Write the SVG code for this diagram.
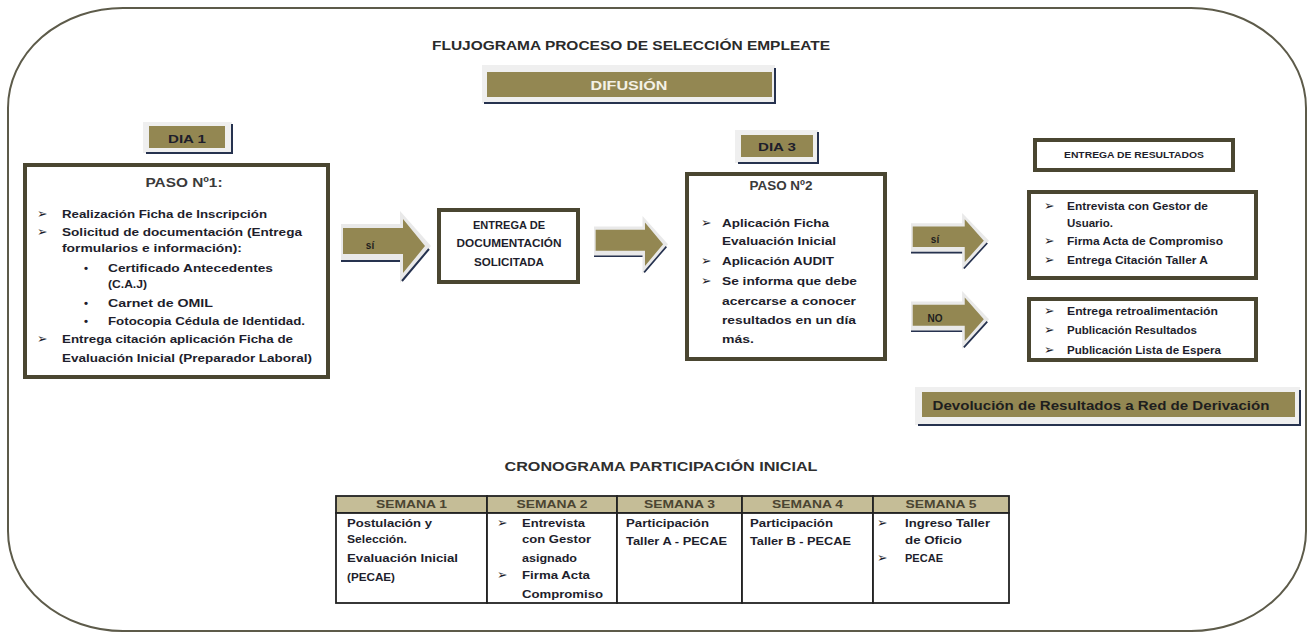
<svg xmlns="http://www.w3.org/2000/svg" width="1309" height="634" viewBox="0 0 1309 634">
<defs>
<style>
.t{font-family:"Liberation Sans",Arial,sans-serif;font-weight:bold;fill:#1e1e2c}
.s{font-size:11.5px}
.c{font-size:11px}
.h{font-size:12px;fill:#3a3a3a}
.m{text-anchor:middle}
.b{font-family:"DejaVu Sans",sans-serif;font-weight:bold;font-size:12.5px;fill:#1e1e2c}
.box{fill:#fff;stroke:#4a4631;stroke-width:4}
.olive{fill:#938752}
.shade{fill:#efefef}
.navy{fill:none;stroke:#26324f;stroke-width:2}
.cell{fill:#fff;stroke:#222;stroke-width:1.8}
.hdr{fill:#c5bd97;stroke:#222;stroke-width:1.8}
</style>
<symbol id="arr" viewBox="0 0 90 72" preserveAspectRatio="none">
<path d="M0,13 H59 V0 L90,35 L59,72 V51 H0 Z" fill="#e9e9e9"/>
<path d="M2,17 H62 V8 L84,35 L62,62 V43 H2 Z" fill="#938752"/>
<path d="M0,50 H59 M61,70 L88,38" fill="none" stroke="#26324f" stroke-width="2"/>
</symbol>
</defs>
<rect width="1309" height="634" fill="#fff"/>
<rect x="8" y="8" width="1298" height="623" rx="115" ry="100" fill="none" stroke="#5d5b4a" stroke-width="2"/>

<g id="title">
<text class="t m" x="631" y="50" font-size="13.5" textLength="398" lengthAdjust="spacingAndGlyphs" style="fill:#2a2a2a">FLUJOGRAMA PROCESO DE SELECCIÓN EMPLEATE</text>
</g>

<g id="difusion">
<rect class="shade" x="482" y="65" width="293" height="38"/>
<rect class="olive" x="487" y="72" width="285" height="25"/>
<path class="navy" d="M484,103 H775 V68"/>
<text class="t m" x="629" y="90" font-size="13" textLength="77" lengthAdjust="spacingAndGlyphs" style="fill:#f4f1e6">DIFUSIÓN</text>
</g>

<g id="dia1">
<rect class="shade" x="143" y="122" width="89" height="31"/>
<rect class="olive" x="149" y="126" width="76" height="22"/>
<path class="navy" d="M146,153 H232 V124"/>
<text class="t m" x="187" y="143" font-size="11" textLength="38" lengthAdjust="spacingAndGlyphs">DIA 1</text>
</g>

<g id="paso1">
<rect class="box" x="25" y="165" width="303" height="212"/>
<text class="t h m" x="184" y="187" textLength="77" lengthAdjust="spacingAndGlyphs">PASO Nº1:</text>
<text class="b" x="37" y="218">➢</text>
<text class="t s" x="62" y="218" textLength="205" lengthAdjust="spacingAndGlyphs">Realización Ficha de Inscripción</text>
<text class="b" x="37" y="236">➢</text>
<text class="t s" x="62" y="236" textLength="240" lengthAdjust="spacingAndGlyphs">Solicitud de documentación (Entrega</text>
<text class="t s" x="62" y="252" textLength="180" lengthAdjust="spacingAndGlyphs">formularios e información):</text>
<text class="t s" x="84" y="272">•</text>
<text class="t s" x="108" y="272" textLength="165" lengthAdjust="spacingAndGlyphs">Certificado Antecedentes</text>
<text class="t s" x="108" y="288" textLength="39" lengthAdjust="spacingAndGlyphs">(C.A.J)</text>
<text class="t s" x="84" y="307">•</text>
<text class="t s" x="108" y="307" textLength="105" lengthAdjust="spacingAndGlyphs">Carnet de OMIL</text>
<text class="t s" x="84" y="325">•</text>
<text class="t s" x="108" y="325" textLength="197" lengthAdjust="spacingAndGlyphs">Fotocopia Cédula de Identidad.</text>
<text class="b" x="37" y="343">➢</text>
<text class="t s" x="62" y="343" textLength="231" lengthAdjust="spacingAndGlyphs">Entrega citación aplicación Ficha de</text>
<text class="t s" x="62" y="362" textLength="250" lengthAdjust="spacingAndGlyphs">Evaluación Inicial (Preparador Laboral)</text>
</g>

<g id="entrega-doc">
<rect class="box" x="439" y="210" width="139" height="72"/>
<text class="t c m" x="509" y="229" textLength="72" lengthAdjust="spacingAndGlyphs">ENTREGA DE</text>
<text class="t c m" x="509" y="247" textLength="105" lengthAdjust="spacingAndGlyphs">DOCUMENTACIÓN</text>
<text class="t c m" x="509" y="266" textLength="70" lengthAdjust="spacingAndGlyphs">SOLICITADA</text>
</g>

<g id="dia3">
<rect class="shade" x="735" y="130" width="83" height="33"/>
<rect class="olive" x="741" y="135" width="72" height="22"/>
<path class="navy" d="M738,163 H818 V132"/>
<text class="t m" x="777" y="151" font-size="11" textLength="38" lengthAdjust="spacingAndGlyphs">DIA 3</text>
</g>

<g id="paso2">
<rect class="box" x="687" y="174" width="198" height="185"/>
<text class="t h m" x="781" y="190" textLength="63" lengthAdjust="spacingAndGlyphs">PASO Nº2</text>
<text class="b" x="701" y="227">➢</text>
<text class="t s" x="722" y="227" textLength="107" lengthAdjust="spacingAndGlyphs">Aplicación Ficha</text>
<text class="t s" x="722" y="245" textLength="114" lengthAdjust="spacingAndGlyphs">Evaluación Inicial</text>
<text class="b" x="701" y="265">➢</text>
<text class="t s" x="722" y="265" textLength="112" lengthAdjust="spacingAndGlyphs">Aplicación AUDIT</text>
<text class="b" x="701" y="285">➢</text>
<text class="t s" x="722" y="285" textLength="135" lengthAdjust="spacingAndGlyphs">Se informa que debe</text>
<text class="t s" x="722" y="305" textLength="134" lengthAdjust="spacingAndGlyphs">acercarse a conocer</text>
<text class="t s" x="722" y="324" textLength="134" lengthAdjust="spacingAndGlyphs">resultados en un día</text>
<text class="t s" x="722" y="343" textLength="32" lengthAdjust="spacingAndGlyphs">más.</text>
</g>

<g id="entrega-resultados">
<rect class="box" x="1035" y="140" width="198" height="30"/>
<text class="t m" x="1134" y="158" font-size="9" textLength="140" lengthAdjust="spacingAndGlyphs">ENTREGA DE RESULTADOS</text>
</g>

<g id="resultado-si">
<rect class="box" x="1029" y="192" width="227" height="86"/>
<text class="b" x="1044" y="210">➢</text>
<text class="t c" x="1067" y="210" textLength="141" lengthAdjust="spacingAndGlyphs">Entrevista con Gestor de</text>
<text class="t c" x="1067" y="227" textLength="46" lengthAdjust="spacingAndGlyphs">Usuario.</text>
<text class="b" x="1044" y="245">➢</text>
<text class="t c" x="1067" y="245" textLength="156" lengthAdjust="spacingAndGlyphs">Firma Acta de Compromiso</text>
<text class="b" x="1044" y="264">➢</text>
<text class="t c" x="1067" y="264" textLength="141" lengthAdjust="spacingAndGlyphs">Entrega Citación Taller A</text>
</g>

<g id="resultado-no">
<rect class="box" x="1029" y="299" width="227" height="61"/>
<text class="b" x="1044" y="315">➢</text>
<text class="t c" x="1067" y="315" textLength="151" lengthAdjust="spacingAndGlyphs">Entrega retroalimentación</text>
<text class="b" x="1044" y="334">➢</text>
<text class="t c" x="1067" y="334" textLength="130" lengthAdjust="spacingAndGlyphs">Publicación Resultados</text>
<text class="b" x="1044" y="354">➢</text>
<text class="t c" x="1067" y="354" textLength="154" lengthAdjust="spacingAndGlyphs">Publicación Lista de Espera</text>
</g>

<g id="devolucion">
<rect class="shade" x="915" y="387" width="385" height="38"/>
<rect class="olive" x="922" y="392" width="373" height="25"/>
<path class="navy" d="M918,425 H1300 V390"/>
<text class="t m" x="1101" y="410" font-size="13.5" textLength="337" lengthAdjust="spacingAndGlyphs" style="fill:#1e1e1e">Devolución de Resultados a Red de Derivación</text>
</g>

<g id="connectors">
<use href="#arr" x="341" y="211" width="90" height="72"/>
<text class="t m" x="370" y="249" font-size="10" style="fill:#1e1e1e">sí</text>
<use href="#arr" x="594" y="216" width="74" height="58"/>
<use href="#arr" x="911" y="213" width="78" height="57"/>
<text class="t m" x="935" y="243" font-size="10" style="fill:#1e1e1e">sí</text>
<use href="#arr" x="911" y="291" width="78" height="58"/>
<text class="t m" x="935" y="322" font-size="10" style="fill:#1e1e1e">NO</text>
</g>

<g id="cronograma">
<text class="t m" x="661" y="471" font-size="13.5" textLength="313" lengthAdjust="spacingAndGlyphs" style="fill:#2e2e2e">CRONOGRAMA PARTICIPACIÓN INICIAL</text>
<rect class="hdr" x="336" y="496" width="151" height="17"/>
<rect class="hdr" x="487" y="496" width="130" height="17"/>
<rect class="hdr" x="617" y="496" width="125" height="17"/>
<rect class="hdr" x="742" y="496" width="131" height="17"/>
<rect class="hdr" x="873" y="496" width="136" height="17"/>
<rect class="cell" x="336" y="513" width="151" height="90"/>
<rect class="cell" x="487" y="513" width="130" height="90"/>
<rect class="cell" x="617" y="513" width="125" height="90"/>
<rect class="cell" x="742" y="513" width="131" height="90"/>
<rect class="cell" x="873" y="513" width="136" height="90"/>
<text class="t c m" x="411.5" y="508" textLength="71" lengthAdjust="spacingAndGlyphs" style="fill:#4b4532">SEMANA 1</text>
<text class="t c m" x="552" y="508" textLength="71" lengthAdjust="spacingAndGlyphs" style="fill:#4b4532">SEMANA 2</text>
<text class="t c m" x="679.5" y="508" textLength="71" lengthAdjust="spacingAndGlyphs" style="fill:#4b4532">SEMANA 3</text>
<text class="t c m" x="807.5" y="508" textLength="71" lengthAdjust="spacingAndGlyphs" style="fill:#4b4532">SEMANA 4</text>
<text class="t c m" x="941" y="508" textLength="71" lengthAdjust="spacingAndGlyphs" style="fill:#4b4532">SEMANA 5</text>
<text class="t c" x="347" y="527" textLength="85" lengthAdjust="spacingAndGlyphs">Postulación y</text>
<text class="t c" x="347" y="543" textLength="60" lengthAdjust="spacingAndGlyphs">Selección.</text>
<text class="t c" x="347" y="562" textLength="111" lengthAdjust="spacingAndGlyphs">Evaluación Inicial</text>
<text class="t c" x="347" y="581" textLength="48" lengthAdjust="spacingAndGlyphs">(PECAE)</text>
<text class="b" x="497" y="527">➢</text>
<text class="t c" x="522" y="527" textLength="63" lengthAdjust="spacingAndGlyphs">Entrevista</text>
<text class="t c" x="522" y="543" textLength="69" lengthAdjust="spacingAndGlyphs">con Gestor</text>
<text class="t c" x="522" y="562" textLength="55" lengthAdjust="spacingAndGlyphs">asignado</text>
<text class="b" x="497" y="579">➢</text>
<text class="t c" x="522" y="579" textLength="68" lengthAdjust="spacingAndGlyphs">Firma Acta</text>
<text class="t c" x="522" y="598" textLength="81" lengthAdjust="spacingAndGlyphs">Compromiso</text>
<text class="t c" x="626" y="527" textLength="83" lengthAdjust="spacingAndGlyphs">Participación</text>
<text class="t c" x="626" y="545" textLength="101" lengthAdjust="spacingAndGlyphs">Taller A - PECAE</text>
<text class="t c" x="750" y="527" textLength="83" lengthAdjust="spacingAndGlyphs">Participación</text>
<text class="t c" x="750" y="545" textLength="101" lengthAdjust="spacingAndGlyphs">Taller B - PECAE</text>
<text class="b" x="877" y="527">➢</text>
<text class="t c" x="905" y="527" textLength="85" lengthAdjust="spacingAndGlyphs">Ingreso Taller</text>
<text class="t c" x="905" y="544" textLength="57" lengthAdjust="spacingAndGlyphs">de Oficio</text>
<text class="b" x="877" y="562">➢</text>
<text class="t c" x="905" y="562" textLength="38" lengthAdjust="spacingAndGlyphs">PECAE</text>
</g>
</svg>
